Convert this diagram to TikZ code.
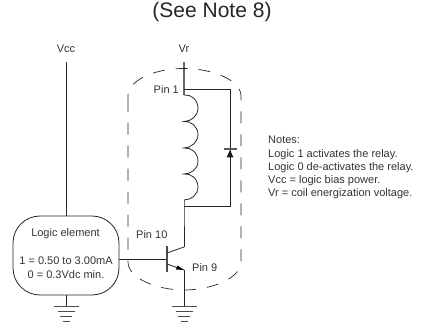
\documentclass[tikz,border=0pt]{standalone}
\usepackage{fontspec}
\setmainfont{Liberation Sans}
\usetikzlibrary{arrows.meta}
\tikzset{
  wire/.style={draw=black!85,line width=0.8pt},
  lbl/.style={inner sep=0pt,text=black!80,font=\fontsize{11}{13}\selectfont},
  gndbar/.style={draw=black!70,line width=1pt},
  dashline/.style={draw=black!85,line width=0.7pt,dash pattern=on 12pt off 11pt},
  logicbox/.style={wire,rounded corners=27pt,minimum width=106pt,minimum height=79pt,inner sep=0pt}
}
\newcommand{\gndsym}[1]{%
  \draw[gndbar] ([xshift=-12.5pt,yshift=-12pt]#1) -- ([xshift=12.5pt,yshift=-12pt]#1);
  \draw[gndbar] ([xshift=-8.5pt,yshift=-17pt]#1) -- ([xshift=8.5pt,yshift=-17pt]#1);
  \draw[gndbar] ([xshift=-6pt,yshift=-22pt]#1) -- ([xshift=6pt,yshift=-22pt]#1);
  \draw[gndbar] ([xshift=-3.5pt,yshift=-27pt]#1) -- ([xshift=3.5pt,yshift=-27pt]#1);
}
\begin{document}
\begin{tikzpicture}[x=1pt,y=-1pt]
\useasboundingbox (0,0) rectangle (428,328);
\node[inner sep=0pt,text=black!85,font=\fontsize{21}{24}\selectfont] (title) at (212,12) {(See Note 8)};
\node[lbl] (vcc) at (66,49) {Vcc};
\node[lbl] (vr) at (184,49) {Vr};
\coordinate (vcctop) at (66,62);
\coordinate (vrtop) at (184,62);
\node[logicbox] (logic) at (66,255.5) {};
\node[lbl] (le) at (65.5,234) {Logic element};
\node[lbl] (l1) at (66,261) {1 = 0.50 to 3.00mA};
\node[lbl] (l0) at (66,275) {0 = 0.3Vdc min.};
\draw[wire] (vcctop) -- (logic.north);
\coordinate (pin1) at (184,89);
\coordinate (coila) at (184,95);
\coordinate (coilb) at (184,200);
\coordinate (jn) at (184,206);
\coordinate (dtop) at (230,89);
\coordinate (dbot) at (230,206);
\coordinate (dbar) at (230,149);
\draw[draw=black!60,line width=1.1pt] (vrtop) -- (pin1) -- (coila);
\draw[wire] (pin1) -- (dtop) -- (dbot) -- (jn);
\draw[wire] (coila)
  .. controls (191,94) and (198,100) .. (198,108)
  .. controls (198,116) and (191,121.5) .. (184,121.5)
  .. controls (191,120.5) and (198,127) .. (198,134.5)
  .. controls (198,142) and (191,148) .. (184,148)
  .. controls (191,147) and (198,153) .. (198,161)
  .. controls (198,169) and (191,174) .. (184,174)
  .. controls (191,173) and (198,179) .. (198,187)
  .. controls (198,195) and (191,200) .. (184,200);
\draw[wire] (coilb) -- (jn) -- (184,247);
\draw[draw=black!65,line width=1.2pt] (224,149) -- (237,149);
\fill[black!90] (230,150) -- (226.5,157.5) -- (233.5,157.5) -- cycle;
\coordinate (b) at (167,259);
\draw[wire] (logic.east |- b) -- (b);
\draw[draw=black!70,line width=1.1pt] (167,246) -- (167,272);
\draw[wire] (167,253) -- (184,247);
\coordinate (em) at (184,270);
\draw[wire] (167,264) -- (em);
\fill[black] (184,270) -- (176,269.5) -- (177.5,265.5) -- cycle;
\coordinate (g2) at (184,295);
\coordinate (g1) at (66,295);
\draw[wire] (em) -- (184,307);
\draw[wire] (logic.south) -- (66,307);
\gndsym{g1}
\gndsym{g2}
\node[lbl,anchor=east] (p1) at (179,89.5) {Pin 1};
\node[lbl,anchor=west] (p10) at (136,235) {Pin 10};
\node[lbl,anchor=west] (p9) at (192,268) {Pin 9};
\draw[dashline] (128,106) -- (128,95) .. controls (130,78) and (158,68.5) .. (184,68.5)
  .. controls (212,68.5) and (241,80) .. (241,96) -- (241,262)
  .. controls (241,278) and (212,290) .. (184,290)
  .. controls (156,290) and (128,278) .. (128,262) -- (128,106);
\node[inner sep=0pt,anchor=north west,align=left,text=black!80,font=\fontsize{11}{13.3}\selectfont] (notes) at (268,136)
 {Notes:\\Logic 1 activates the relay.\\Logic 0 de-activates the relay.\\Vcc = logic bias power.\\Vr = coil energization voltage.};
\end{tikzpicture}
\end{document}
